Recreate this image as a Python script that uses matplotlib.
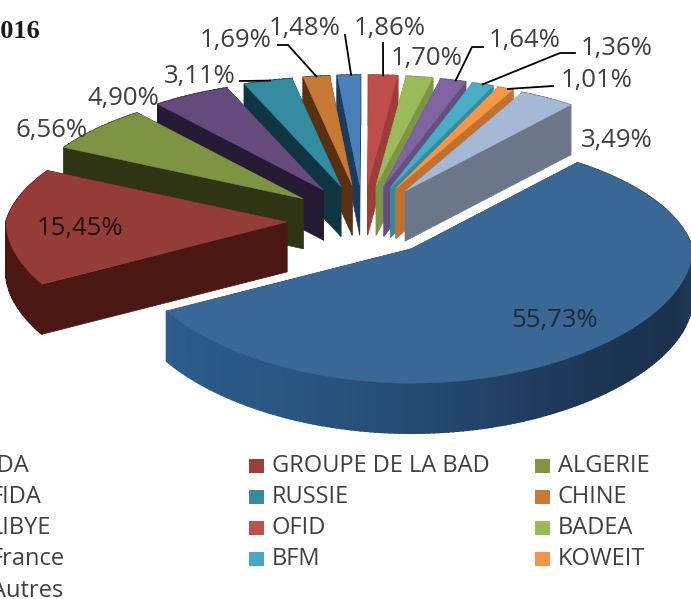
import numpy as np
import matplotlib
matplotlib.use('Agg')
import matplotlib.pyplot as plt

# donnees
names = ['IDA', 'GROUPE DE LA BAD', 'ALGERIE', 'FIDA', 'RUSSIE', 'CHINE', 'LIBYE',
         'OFID', 'BADEA', 'France', 'BFM', 'KOWEIT', 'Autres']
values = [55.73, 15.45, 6.56, 4.90, 3.11, 1.69, 1.48, 1.86, 1.70, 1.64, 1.36, 1.01, 3.49]
title = '2016'

# couleurs
top_colors = ['#3a6896', '#963c38', '#7d9542', '#654a7d', '#348a9f', '#c67a35', '#4a80b9',
              '#bf4e4b', '#9bba59', '#8064a2', '#4aacc5', '#f79646', '#a5b8d6']
wall_colors = ['#264c72', '#4a1713', '#2f3514', '#241a33', '#0f3540', '#5a2f10', '#1c3a5c',
               '#9c3d3a', '#7b9446', '#654f80', '#348a9f', '#c0702f', '#6b7788']
legend_colors = ['#3a6896', '#9c3e3a', '#7f9643', '#664a80', '#358aa0', '#c87a36', '#4a80b9',
                 '#c0504d', '#9bbb59', '#8064a2', '#45a9c5', '#f79646', '#a5b8d6']

# geometrie du camembert 3D
cx, cy = 363, 221
rx, ry = 281, 121
persp_x, persp_y = 0.12, 0.10
expl_x, expl_y = 76, 36
depth = 50
start_angle = 50


def rim(theta):
    c, s = np.cos(theta), np.sin(theta)
    px = rx * c / (1 + persp_x * np.maximum(s, 0))
    py = ry * s / (1 + persp_y * s)
    return px, py


def apex(mid):
    return cx + expl_x * np.cos(mid), cy - expl_y * np.sin(mid)


fig = plt.figure(figsize=(6.91, 5.99), dpi=100)
ax = fig.add_axes([0, 0, 1, 1])
ax.set_xlim(0, 691)
ax.set_ylim(599, 0)
ax.axis('off')

edges = start_angle - np.concatenate([[0], np.cumsum(values)]) / sum(values) * 360
slices = []
for i, v in enumerate(values):
    t0, t1 = np.radians(edges[i]), np.radians(edges[i + 1])
    mid = (t0 + t1) / 2
    ax0, ay0 = apex(mid)
    th = np.linspace(t0, t1, max(int(abs(edges[i] - edges[i + 1])), 3) + 1)
    px, py = rim(th)
    slices.append(dict(i=i, ax=ax0, ay=ay0, th=th, x=ax0 + px, y=ay0 - py))

# ombrage du bord de la grande part
blue_pos = [-150, -110, -80, -50, -20, 10, 50]
blue_r = [0.17, 0.16, 0.14, 0.11, 0.10, 0.16, 0.17]
blue_g = [0.36, 0.33, 0.27, 0.21, 0.19, 0.29, 0.30]
blue_b = [0.55, 0.50, 0.42, 0.33, 0.30, 0.42, 0.45]

for s in sorted(slices, key=lambda d: d['ay']):
    i = s['i']
    wall = wall_colors[i]
    # faces radiales
    for k in (0, -1):
        ax.fill([s['ax'], s['x'][k], s['x'][k], s['ax']],
                [s['ay'], s['y'][k], s['y'][k] + depth, s['ay'] + depth],
                color=wall, lw=0.5, zorder=2)
    # bord exterieur
    for k in range(len(s['x']) - 1):
        col = wall
        if i == 0:
            a = (np.degrees(s['th'][k]) + 180) % 360 - 180
            col = (np.interp(a, blue_pos, blue_r), np.interp(a, blue_pos, blue_g),
                   np.interp(a, blue_pos, blue_b))
        ax.fill([s['x'][k], s['x'][k + 1], s['x'][k + 1], s['x'][k]],
                [s['y'][k], s['y'][k + 1], s['y'][k + 1] + depth, s['y'][k] + depth],
                color=col, lw=1.2, zorder=2)
    ax.fill(np.r_[s['ax'], s['x']], np.r_[s['ay'], s['y']], color=top_colors[i], lw=0.3, zorder=2)

# etiquettes
font = ['Open Sans', 'DejaVu Sans']
label_x = [555, 80, 52, 123, 200, 236, 305, 390, 427, 525, 617, 597, 617]
label_y = [321, 228, 131, 98, 76, 40, 28, 29, 59, 41, 48, 80, 140]
label_col = ['#1c2a38', '#1c0c0a'] + ['#404040'] * 11
for i, v in enumerate(values):
    txt = f'{v:.2f}%'.replace('.', ',')
    ax.text(label_x[i], label_y[i], txt, ha='center', va='center', fontsize=18.5,
            color=label_col[i], family=font, zorder=4)

# traits de rappel (depuis le texte jusqu'au bord de la part)
leaders = {4: [(240, 81)], 5: [(278, 45), (288, 45)], 6: [(345, 35)], 7: [(383, 43)],
           9: [(483, 47), (472, 47)], 10: [(575, 53), (560, 53)], 11: [(553, 86)]}
for i, pts in leaders.items():
    s = slices[i]
    n = len(s['x']) // 2
    xs = [p[0] for p in pts] + [s['x'][n]]
    ys = [p[1] for p in pts] + [s['y'][n]]
    ax.plot(xs, ys, color='black', lw=1.3, zorder=3)

# legende
col_swatch = [-30, 249, 535]
col_text = [-9, 272, 558]
row_y = [466, 497, 528, 559, 591]
for i, n in enumerate(names):
    row, col = i // 3, i % 3
    ax.add_patch(plt.Rectangle((col_swatch[col], row_y[row] - 7), 15, 14,
                               color=legend_colors[i], lw=0))
    ax.text(col_text[col], row_y[row], n, ha='left', va='center', fontsize=17,
            color='#404040', family=font)

ax.text(41, 32, title, ha='right', va='center', fontsize=19, fontweight='bold',
        color='#1a1a1a', family='Liberation Serif')

fig.savefig('out.png', dpi=100)
